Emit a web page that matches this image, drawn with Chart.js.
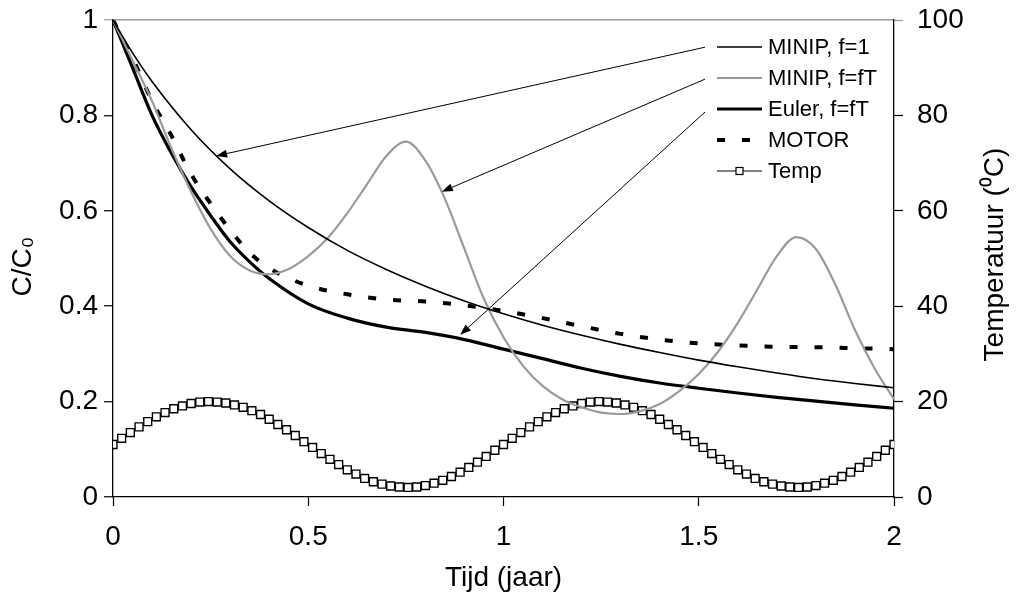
<!DOCTYPE html>
<html><head><meta charset="utf-8">
<script src="https://cdn.jsdelivr.net/npm/chart.js@4.4.1/dist/chart.umd.min.js"></script>
<style>html,body{margin:0;padding:0;background:#fff;}#wrap{width:1017px;height:605px;}</style>
</head><body><div id="wrap"><canvas id="c" width="1017" height="605"></canvas></div>
<script>
// ---- data ----
const seriesNames = ["MINIP, f=1", "MINIP, f=fT", "Euler, f=fT", "MOTOR", "Temp"];
const axisTitles = {x: "Tijd (jaar)", y: "C/C\u2080", y2: "Temperatuur (\u2070C)"};

const minip1T = [0,0.05,0.1,0.2,0.3,0.4,0.5,0.6,0.7,0.8,0.9,1.0,1.1,1.2,1.3,1.4,1.5,1.6,1.7,1.8,1.9,2.0];
const minip1  = [1,0.931,0.871,0.770,0.688,0.621,0.565,0.517,0.477,0.442,0.411,0.384,0.360,0.339,0.320,0.303,0.287,0.273,0.260,0.248,0.238,0.229];

const minipFT_T = [0,0.05,0.1,0.15,0.2,0.25,0.3,0.35,0.4,0.45,0.5,0.55,0.6,0.65,0.7,0.75,0.8,0.85,0.9,0.95,1.0,1.05,1.1,1.15,1.2,1.25,1.3,1.35,1.4,1.45,1.5,1.55,1.6,1.65,1.7,1.75,1.8,1.85,1.9,1.95,2.0];
const minipFT   = [1,0.915,0.83,0.73,0.64,0.562,0.505,0.475,0.467,0.478,0.505,0.543,0.595,0.655,0.715,0.745,0.705,0.625,0.52,0.415,0.335,0.275,0.233,0.205,0.188,0.177,0.174,0.18,0.195,0.222,0.258,0.305,0.365,0.435,0.505,0.545,0.52,0.445,0.35,0.27,0.205];

const eulerT = [0,0.05,0.1,0.15,0.2,0.25,0.3,0.35,0.4,0.5,0.6,0.7,0.8,0.9,1.0,1.1,1.2,1.3,1.4,1.5,1.6,1.7,1.8,1.9,2.0];
const euler  = [1,0.90,0.80,0.72,0.65,0.59,0.535,0.493,0.458,0.405,0.375,0.356,0.345,0.33,0.31,0.29,0.27,0.253,0.239,0.228,0.218,0.209,0.201,0.193,0.186];

const motorT = [0,0.05,0.1,0.15,0.2,0.25,0.3,0.35,0.4,0.5,0.6,0.7,0.8,0.9,1.0,1.1,1.2,1.3,1.4,1.5,1.6,1.7,1.8,1.9,2.0];
const motor  = [1,0.92,0.83,0.757,0.677,0.615,0.56,0.512,0.48,0.443,0.425,0.414,0.41,0.402,0.39,0.375,0.358,0.342,0.33,0.322,0.318,0.315,0.314,0.312,0.31];

const tempT = [0,0.0222,0.0444,0.0667,0.0889,0.1111,0.1333,0.1556,0.1778,0.2,0.2222,0.2444,0.2667,0.2889,0.3111,0.3333,0.3556,0.3778,0.4,0.4222,0.4444,0.4667,0.4889,0.5111,0.5333,0.5556,0.5778,0.6,0.6222,0.6444,0.6667,0.6889,0.7111,0.7333,0.7556,0.7778,0.8,0.8222,0.8444,0.8667,0.8889,0.9111,0.9333,0.9556,0.9778,1.0,
1.0222,1.0444,1.0667,1.0889,1.1111,1.1333,1.1556,1.1778,1.2,1.2222,1.2444,1.2667,1.2889,1.3111,1.3333,1.3556,1.3778,1.4,1.4222,1.4444,1.4667,1.4889,1.5111,1.5333,1.5556,1.5778,1.6,1.6222,1.6444,1.6667,1.6889,1.7111,1.7333,1.7556,1.7778,1.8,1.8222,1.8444,1.8667,1.8889,1.9111,1.9333,1.9556,1.9778,2.0];
const temp = [11.0,12.3,13.5,14.7,15.8,16.8,17.7,18.5,19.1,19.6,19.9,20.0,19.9,19.7,19.3,18.8,18.1,17.3,16.3,15.2,14.1,12.9,11.6,10.4,9.1,7.9,6.8,5.7,4.8,3.9,3.2,2.7,2.3,2.1,2.0,2.1,2.4,2.9,3.5,4.3,5.2,6.2,7.3,8.5,9.8,11.0,
12.3,13.5,14.7,15.8,16.8,17.7,18.5,19.1,19.6,19.9,20.0,19.9,19.7,19.3,18.8,18.1,17.3,16.3,15.2,14.1,12.9,11.6,10.4,9.1,7.9,6.8,5.7,4.8,3.9,3.2,2.7,2.3,2.1,2.0,2.1,2.4,2.9,3.5,4.3,5.2,6.2,7.3,8.5,9.8,11.0];

const xTicks = [0, 0.5, 1, 1.5, 2];
const arrowFrom = [[1.516,0.943],[1.516,0.876],[1.516,0.807]];
const arrowTo   = [[0.264,0.715],[0.842,0.640],[0.889,0.340]];

// ---- helpers ----
const pts = (xs, ys) => xs.map((x, i) => ({x: x, y: ys[i]}));
const FONT = "'Liberation Sans', Arial, sans-serif";
const GRAY = '#9a9a9a';
const fmt = v => String(Math.round(v * 10) / 10);
const noPad = s => { s.paddingTop = 0; s.paddingBottom = 0; };

const overlay = {
  id: 'overlay',
  afterDatasetsDraw(chart) {
    const ctx = chart.ctx, xs = chart.scales.x, ys = chart.scales.y, ca = chart.chartArea;
    ctx.save();
    // arrows
    ctx.strokeStyle = '#000'; ctx.fillStyle = '#000'; ctx.lineWidth = 1;
    for (let i = 0; i < arrowFrom.length; i++) {
      const x1 = xs.getPixelForValue(arrowFrom[i][0]), y1 = ys.getPixelForValue(arrowFrom[i][1]);
      const x2 = xs.getPixelForValue(arrowTo[i][0]), y2 = ys.getPixelForValue(arrowTo[i][1]);
      const a = Math.atan2(y2 - y1, x2 - x1), L = 11, W = 4;
      const bx = x2 - L * Math.cos(a), by = y2 - L * Math.sin(a);
      ctx.beginPath(); ctx.moveTo(x1, y1); ctx.lineTo(bx, by); ctx.stroke();
      ctx.beginPath(); ctx.moveTo(x2, y2);
      ctx.lineTo(bx + W * Math.sin(a), by - W * Math.cos(a));
      ctx.lineTo(bx - W * Math.sin(a), by + W * Math.cos(a));
      ctx.closePath(); ctx.fill();
    }
    // legend
    const lx1 = 717, lx2 = 762, tx = 768, y0 = 47, dy = 31;
    ctx.font = '22px ' + FONT; ctx.textBaseline = 'middle'; ctx.textAlign = 'left';
    chart.data.datasets.forEach((ds, i) => {
      const y = y0 + i * dy;
      ctx.save();
      ctx.strokeStyle = ds.borderColor; ctx.lineWidth = ds.borderWidth;
      ctx.setLineDash(ds.borderDash || []);
      ctx.beginPath(); ctx.moveTo(lx1, y); ctx.lineTo(lx2, y); ctx.stroke();
      ctx.restore();
      if (ds.pointRadius > 0) {
        const s = 7;
        ctx.fillStyle = '#fff'; ctx.fillRect((lx1 + lx2) / 2 - s / 2, y - s / 2, s, s);
        ctx.lineWidth = 1.2; ctx.strokeStyle = '#000';
        ctx.strokeRect((lx1 + lx2) / 2 - s / 2, y - s / 2, s, s);
      }
      ctx.fillStyle = '#000';
      ctx.fillText(ds.label, tx, y + 1);
    });
    // axis titles
    ctx.fillStyle = '#000'; ctx.font = '28px ' + FONT;
    ctx.textAlign = 'center'; ctx.textBaseline = 'middle';
    ctx.fillText(axisTitles.x, (ca.left + ca.right) / 2, 578);
    ctx.save(); ctx.translate(23, (ca.top + ca.bottom) / 2 + 8); ctx.rotate(-Math.PI / 2);
    ctx.fillText(axisTitles.y, 0, 0); ctx.restore();
    ctx.save(); ctx.translate(995, (ca.top + ca.bottom) / 2 - 4); ctx.rotate(-Math.PI / 2);
    ctx.fillText(axisTitles.y2, 0, 0); ctx.restore();
    ctx.restore();
  }
};

new Chart(document.getElementById('c'), {
  type: 'line',
  data: {
    datasets: [
      {label: seriesNames[0], data: pts(minip1T, minip1), yAxisID: 'y', borderColor: '#000', borderWidth: 1.6, pointRadius: 0, cubicInterpolationMode: 'monotone'},
      {label: seriesNames[1], data: pts(minipFT_T, minipFT), yAxisID: 'y', borderColor: GRAY, borderWidth: 2.2, pointRadius: 0, cubicInterpolationMode: 'monotone'},
      {label: seriesNames[2], data: pts(eulerT, euler), yAxisID: 'y', borderColor: '#000', borderWidth: 3.2, pointRadius: 0, cubicInterpolationMode: 'monotone'},
      {label: seriesNames[3], data: pts(motorT, motor), yAxisID: 'y', borderColor: '#000', borderWidth: 4, borderDash: [8, 17], pointRadius: 0, cubicInterpolationMode: 'monotone'},
      {label: seriesNames[4], data: pts(tempT, temp), yAxisID: 'y2', borderColor: '#000', borderWidth: 1, pointStyle: 'rect', pointRadius: 5.6, pointBackgroundColor: '#fff', pointBorderColor: '#000', pointBorderWidth: 1.4, tension: 0}
    ]
  },
  options: {
    responsive: false,
    animation: false,
    layout: {padding: {top: 20, left: 0, right: 0, bottom: 0}},
    plugins: {legend: {display: false}, tooltip: {enabled: false}},
    scales: {
      x: {
        type: 'linear', position: 'bottom', min: 0, max: 2,
        afterBuildTicks: s => { s.ticks = xTicks.map(v => ({value: v})); },
        ticks: {font: {family: FONT, size: 28}, color: '#000', padding: 14, maxRotation: 0, callback: v => fmt(v)},
        grid: {drawOnChartArea: false, tickLength: 9, tickColor: '#000', tickWidth: 1.2},
        border: {color: '#000', width: 1.3},
        afterFit: s => { s.height = 108; s.paddingLeft = 0; s.paddingRight = 0; }
      },
      y: {
        position: 'left', min: 0, max: 1,
        ticks: {stepSize: 0.2, font: {family: FONT, size: 28}, color: '#000', padding: 6, callback: v => fmt(v)},
        grid: {color: c => c.tick && c.tick.value === 1 ? GRAY : 'rgba(0,0,0,0)', lineWidth: 1.5, tickLength: 9,
               tickColor: c => c.tick && c.tick.value === 1 ? GRAY : '#000', tickWidth: 1.2},
        border: {color: '#000', width: 1.3},
        afterFit: s => { s.width = 113; noPad(s); }
      },
      y2: {
        position: 'right', min: 0, max: 100,
        ticks: {stepSize: 20, font: {family: FONT, size: 28}, color: '#000', padding: 14, callback: v => fmt(v)},
        grid: {drawOnChartArea: false, tickLength: 9,
               tickColor: c => c.tick && c.tick.value === 100 ? GRAY : '#000', tickWidth: 1.2},
        border: {color: '#000', width: 1.3},
        afterFit: s => { s.width = 123; noPad(s); }
      }
    }
  },
  plugins: [overlay]
});
</script></body></html>
